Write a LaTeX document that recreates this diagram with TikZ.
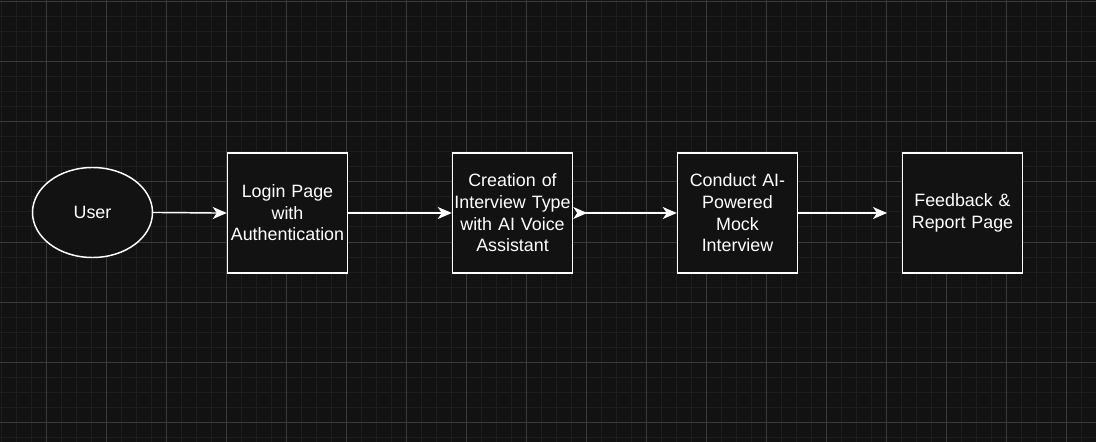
\documentclass[tikz,border=0pt]{standalone}
\usepackage{fontspec}
\setmainfont{Liberation Sans}
\usetikzlibrary{arrows.meta,shapes.geometric}
\definecolor{bg}{RGB}{18,18,18}
\definecolor{gminor}{RGB}{30,30,30}
\definecolor{gmajor}{RGB}{58,58,58}
\tikzset{
  every node/.style={font=\fontsize{13.4}{16.2}\selectfont, text=white},
  stepbox/.style={draw=white, line width=1.1pt, fill=bg, minimum width=120*0.75pt, minimum height=120*0.75pt, inner sep=0pt, align=center, text width=118*0.75pt},
  userell/.style={ellipse, draw=white, line width=1.1pt, fill=bg, minimum width=120*0.75pt, minimum height=90*0.75pt, inner sep=0pt},
  arr/.style={draw=white, line width=1.1pt, -{Stealth[length=10.5pt, width=9pt, inset=3pt]}},
  arrboth/.style={draw=white, line width=1.1pt, {Stealth[length=10.5pt, width=9pt, inset=3pt, reversed]}-{Stealth[length=10.5pt, width=9pt, inset=3pt]}},
}
\begin{document}
\begin{tikzpicture}[x=0.75pt, y=-0.75pt]
\useasboundingbox (0,0) rectangle (1096,442);
\fill[bg] (0,0) rectangle (1096,442);
% minor grid
\foreach \i in {0,...,73} {\draw[gminor, line width=0.75pt] ({1+15*\i},0) -- ({1+15*\i},442);}
\foreach \j in {0,...,29} {\draw[gminor, line width=0.75pt] (0,{2+15*\j}) -- (1096,{2+15*\j});}
% major grid
\foreach \i in {0,...,17} {\draw[gmajor, line width=0.75pt] ({46+60*\i},0) -- ({46+60*\i},442);}
\foreach \j in {0,...,7} {\draw[gmajor, line width=0.75pt] (0,{2+60*\j}) -- (1096,{2+60*\j});}

\node[userell] (user) at (92.5,212.5) {User};
\node[stepbox] (login) at (287.5,213) {Login Page\\with\\Authentication};
\node[stepbox] (create) at (512.5,213) {Creation of\\Interview Type\\with AI Voice\\Assistant};
\node[stepbox] (conduct) at (737.5,213) {Conduct AI-\\Powered\\Mock\\Interview};
\node[stepbox] (feed) at (962.5,213) {Feedback \&\\Report Page};
\coordinate (fend) at (887,213);

\draw[arr] (user.east) to[out=0, in=180] (login.west);
\draw[arr] (login.east) -- (create.west);
\draw[arrboth] (create.east) -- (conduct.west);
\draw[arr] (conduct.east) -- (fend);
\end{tikzpicture}
\end{document}
